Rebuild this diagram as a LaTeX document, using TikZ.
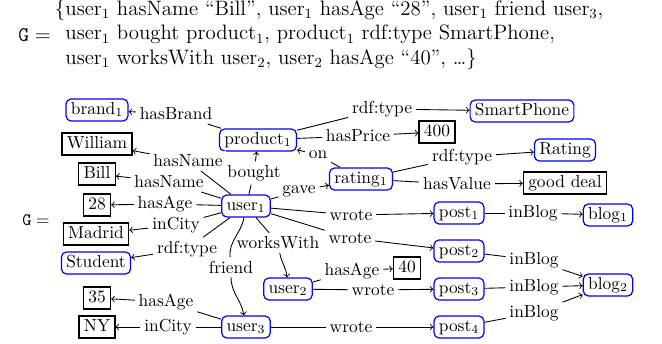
\documentclass[tikz,border=0pt]{standalone}
\usepackage{amsmath}
\usetikzlibrary{arrows}
\tikzset{
  res/.style={draw=blue, line width=0.7pt, rounded corners=3pt, inner xsep=2.8pt, inner ysep=1.9pt, text height=6.9pt, text depth=2pt},
  lit/.style={draw, line width=0.7pt, inner xsep=2.8pt, inner ysep=1.9pt, text height=6.9pt, text depth=2pt},
  lbl/.style={fill=white, inner sep=2pt}
}
\begin{document}
\begin{tikzpicture}[x=0.575pt, y=-0.575pt, line width=0.5pt]
    \useasboundingbox (0,0) rectangle (662,344);

    % The triples
    \node[anchor=west, inner sep=0pt, font=\large] (eqG) at (18,35) {$\mathtt{G} =$};
    \node[anchor=west, inner sep=0pt, font=\large] (triples) at (65,35) {\begin{tabular}{@{}l@{}}
        \llap{\{}user$_1$ hasName ``Bill'', user$_1$ hasAge ``28'', user$_1$ friend user$_3$,\\
        user$_1$ bought product$_1$, product$_1$ rdf:type SmartPhone,\\
        user$_1$ worksWith user$_2$, user$_2$ hasAge ``40'', \ldots\}
    \end{tabular}};

    % The graph
    \node (graphG) at (36,220) {$\mathtt{G} =$};

    % Resources
    \foreach \nm/\x/\y/\txt in {brand/97/110/brand$_1$, product/258/140/product$_1$,
        smartphone/522/111/SmartPhone, ratingcls/565/150/Rating, rating/361/179/rating$_1$,
        user1/246/206/user$_1$, post1/459/213/post$_1$, blog1/608/215/blog$_1$,
        post2/459/251/post$_2$, blog2/608/285/blog$_2$, user2/288/289/user$_2$,
        post3/459/289/post$_3$, user3/246/327/user$_3$, post4/459/327/post$_4$,
        student/96/263/Student} {
        \node[res] (\nm) at (\x,\y) {\txt};
    }

    % Literals
    \foreach \nm/\x/\y/\txt in {william/97/144/William, bill/97/174/Bill, age28/97/205/28,
        madrid/96/234/Madrid, age35/97/298/35, ny/97/327/NY, price/437/132/400,
        gooddeal/565/183/good deal, age40/407/268/40} {
        \node[lit] (\nm) at (\x,\y) {\txt};
    }

    % Edge labels
    \foreach \nm/\x/\y/\txt in {lBrand/176/114/hasBrand, lName1/188/161/hasName,
        lName2/169/182/hasName, lAge1/165/204/hasAge, lCity1/176/225/inCity,
        lType1/187/249/rdf:type, lWorks/278/243/worksWith, lFriend/231/267/friend,
        lAge3/166/302/hasAge, lCity3/168/327/inCity, lBought/254/173/bought,
        lGave/299/191/gave, lOn/318/155/on, lType2/382/109/rdf:type,
        lPrice/358/136/hasPrice, lType3/462/157/rdf:type, lValue/457/184/hasValue,
        lWrote1/351/215/wrote, lWrote2/350/238/wrote, lAge2/352/271/hasAge,
        lWrote3/373/290/wrote, lWrote4/351/327/wrote, lBlog1/533/213/inBlog,
        lBlog2/534/260/inBlog, lBlog3/534/287/inBlog, lBlog4/534/313/inBlog} {
        \node[lbl] (\nm) at (\x,\y) {\txt};
    }

    % Edges
    \foreach \a/\l/\b in {product/lBrand/brand, user1/lName1/william, user1/lName2/bill,
        user1/lAge1/age28, user1/lCity1/madrid, user1/lType1/student, user3/lAge3/age35,
        user3/lCity3/ny, user1/lBought/product, user1/lGave/rating, rating/lOn/product,
        product/lType2/smartphone, product/lPrice/price, rating/lType3/ratingcls,
        rating/lValue/gooddeal, user1/lWrote1/post1, user1/lWrote2/post2,
        user2/lAge2/age40, user2/lWrote3/post3, user3/lWrote4/post4,
        post1/lBlog1/blog1, post2/lBlog2/blog2, post3/lBlog3/blog2, post4/lBlog4/blog2} {
        \draw (\a) -- (\l);
        \draw[->] (\l) -- (\b);
    }
    \draw (user1) -- (lWorks);
    \draw[->] (lWorks) to[out=-80, in=95] (user2);
    \draw (user1) to[out=-100, in=95] (lFriend);
    \draw[->] (lFriend) to[out=-90, in=100] (user3);

\end{tikzpicture}
\end{document}
